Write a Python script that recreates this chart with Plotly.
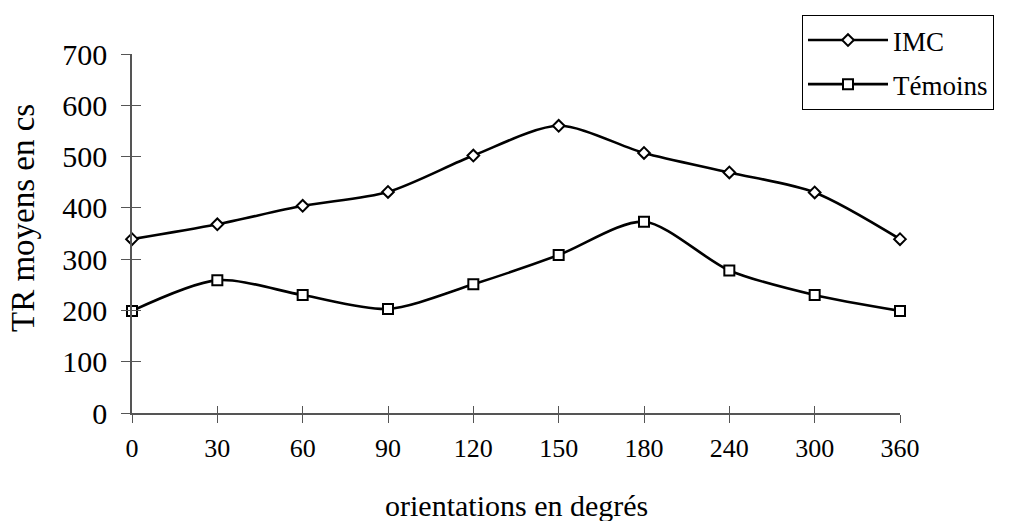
import plotly.graph_objects as go

categories = ["0", "30", "60", "90", "120", "150", "180", "240", "300", "360"]
imc = [339, 368, 404, 431, 502, 560, 507, 469, 430, 339]
temoins = [199, 259, 230, 203, 251, 308, 373, 278, 230, 199]
y_ticks = [0, 100, 200, 300, 400, 500, 600, 700]

FONT = "Liberation Serif, Times New Roman, serif"
xpos = list(range(len(categories)))

fig = go.Figure()
fig.add_trace(go.Scatter(
    x=xpos, y=imc, name="IMC", mode="lines+markers",
    line=dict(color="black", width=2.6, shape="spline", smoothing=0.8),
    marker=dict(symbol="diamond", size=9, color="white", line=dict(color="black", width=2)),
    cliponaxis=False, legendgroup="a"))
fig.add_trace(go.Scatter(
    x=xpos, y=temoins, name="Témoins", mode="lines+markers",
    line=dict(color="black", width=2.6, shape="spline", smoothing=0.8),
    marker=dict(symbol="square", size=10, color="white", line=dict(color="black", width=2)),
    cliponaxis=False, legendgroup="b"))

axis_color = "#555555"
fig.update_layout(
    width=1017, height=521,
    margin=dict(l=132, r=117, t=54, b=108, autoexpand=False),
    paper_bgcolor="white", plot_bgcolor="white",
    font=dict(family=FONT, color="black"),
    showlegend=True,
    legend=dict(xref="container", yref="container", x=802 / 1017, y=1 - 15 / 521,
                xanchor="left", yanchor="top",
                bordercolor="black", borderwidth=1, bgcolor="white",
                font=dict(size=27, family=FONT, color="black"), traceorder="grouped",
                tracegroupgap=6, itemwidth=80),
    xaxis=dict(range=[0, len(categories) - 1], tickvals=xpos, ticktext=categories,
               showgrid=False, zeroline=False, showline=True, linecolor=axis_color,
               linewidth=1.5, ticks="outside", ticklen=8, tickcolor=axis_color,
               tickwidth=1.2, tickfont=dict(size=26, family=FONT, color="black"),
               ticklabelstandoff=3),
    xaxis2=dict(range=[0, len(categories) - 1], tickvals=xpos, overlaying="x",
                showgrid=False, zeroline=False, showline=False, ticks="inside",
                ticklen=7, tickcolor=axis_color, tickwidth=1.2,
                showticklabels=False, side="bottom"),
    yaxis=dict(range=[0, 700], tickvals=y_ticks, showgrid=False, zeroline=False,
               showline=True, linecolor=axis_color, linewidth=1.5,
               ticks="outside", ticklen=9, tickcolor=axis_color, tickwidth=1.2,
               tickfont=dict(size=30, family=FONT, color="black"), ticklabelstandoff=8),
    yaxis2=dict(range=[0, 700], tickvals=y_ticks, overlaying="y", side="left",
                showgrid=False, zeroline=False, showline=False, ticks="inside",
                ticklen=9, tickcolor=axis_color, tickwidth=1.2, showticklabels=False),
    annotations=[
        dict(text="TR moyens en cs", xref="paper", yref="paper",
             x=(23 - 132) / 768, y=(413 - 218) / 359, xanchor="center",
             yanchor="middle", textangle=-90, showarrow=False,
             font=dict(size=33, family=FONT, color="black")),
        dict(text="orientations en degrés", xref="paper", yref="paper",
             x=0.5, y=(413 - 505) / 359, xanchor="center", yanchor="middle",
             showarrow=False, font=dict(size=30, family=FONT, color="black")),
    ],
)
# invisible trace to activate the overlay axes (crossing ticks)
fig.add_trace(go.Scatter(x=[0], y=[0], xaxis="x2", yaxis="y2", mode="markers",
                         marker=dict(opacity=0), showlegend=False, hoverinfo="skip"))

fig.write_html("out.html", config={"displayModeBar": False},
               post_script="document.body.style.margin='0';document.body.style.overflow='hidden';")
